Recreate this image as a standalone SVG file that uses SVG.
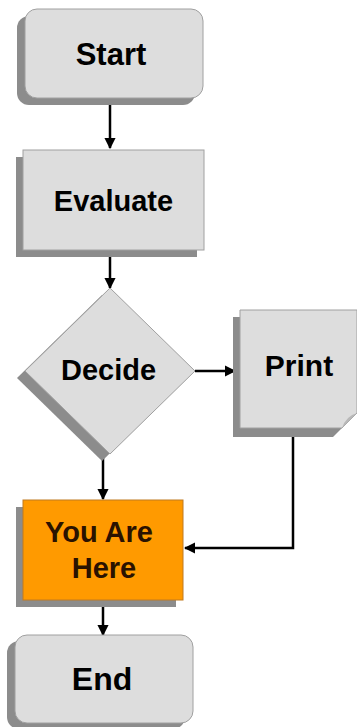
<svg xmlns="http://www.w3.org/2000/svg" width="357" height="727" viewBox="0 0 357 727">
<defs>
<style>
.face{fill:#dddddd;stroke:#a0a0a0;stroke-width:1}
.shadow{fill:#8c8c8c}
.lbl{font-family:"Liberation Sans",Arial,sans-serif;font-weight:bold;fill:#000;text-anchor:middle}
.here{fill:#ff9a00;stroke:#c07a20;stroke-width:1}
.conn{fill:none;stroke:#000;stroke-width:2.5}
</style>
<marker id="ah" viewBox="0 0 10 10" refX="9" refY="5" markerWidth="4.6" markerHeight="4.6" markerUnits="strokeWidth" orient="auto">
<path d="M0,0 L10,5 L0,10 z" fill="#000"/>
</marker>
</defs>
<rect width="357" height="727" fill="#ffffff"/>
<g id="connectors">
<line class="conn" x1="110" y1="98" x2="110" y2="148" marker-end="url(#ah)"/>
<line class="conn" x1="110" y1="250" x2="110" y2="288" marker-end="url(#ah)"/>
<line class="conn" x1="195" y1="371" x2="235" y2="371" marker-end="url(#ah)"/>
<line class="conn" x1="103" y1="455" x2="103" y2="499" marker-end="url(#ah)"/>
<polyline class="conn" points="293,430 293,548 185,548" marker-end="url(#ah)"/>
<line class="conn" x1="103" y1="607" x2="103" y2="635" marker-end="url(#ah)"/>
</g>
<g id="start">
<rect class="shadow" x="17" y="16" width="178" height="89" rx="12"/>
<rect class="face" x="25" y="9" width="178" height="89" rx="12"/>
<text class="lbl" x="111" y="65" font-size="31">Start</text>
</g>
<g id="evaluate">
<rect class="shadow" x="16" y="157" width="181" height="100"/>
<rect class="face" x="23" y="150" width="181" height="100"/>
<text class="lbl" x="113.5" y="211" font-size="29">Evaluate</text>
</g>
<g id="decide">
<polygon class="shadow" points="102,295 187,378 102,461 17,378"/>
<polygon class="face" points="110,288 195,371 110,454 25,371"/>
<text class="lbl" x="108.5" y="380" font-size="29">Decide</text>
</g>
<g id="print">
<path class="shadow" d="M233,317 H350 V420 L333,437 H233 Z"/>
<path class="face" d="M240,310 H357 V413 L342,428 H240 Z"/>
<path d="M342,428 Q346,416 357,413 Q349,421 342,428 Z" fill="#b8b8b8"/>
<text class="lbl" x="299" y="376" font-size="30">Print</text>
</g>
<g id="you-are-here">
<rect class="shadow" x="16" y="507" width="160" height="100"/>
<rect class="here" x="23" y="500" width="160" height="100"/>
<text class="lbl" x="99" y="542" font-size="29" style="fill:#2a1200">You Are</text>
<text class="lbl" x="104" y="578" font-size="29" style="fill:#2a1200">Here</text>
</g>
<g id="end">
<rect class="shadow" x="7" y="641" width="178" height="88" rx="12"/>
<rect class="face" x="15" y="635" width="178" height="88" rx="12"/>
<text class="lbl" x="102" y="690" font-size="32">End</text>
</g>
</svg>
